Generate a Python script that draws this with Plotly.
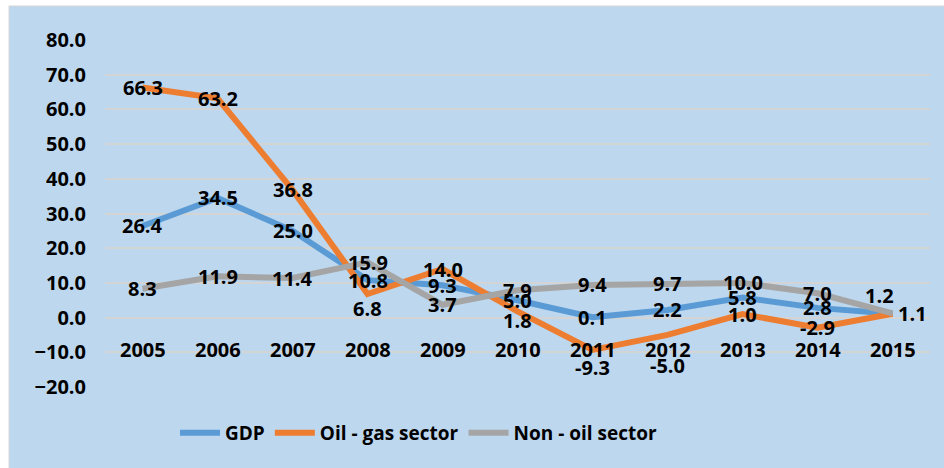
import plotly.graph_objs as go

years = ["2005", "2006", "2007", "2008", "2009", "2010", "2011", "2012", "2013", "2014", "2015"]
gdp = [26.4, 34.5, 25.0, 10.8, 9.3, 5.0, 0.1, 2.2, 5.8, 2.8, 1.1]
oil_gas = [66.3, 63.2, 36.8, 6.8, 14.0, 1.8, -9.3, -5.0, 1.0, -2.9, 1.1]
non_oil = [8.3, 11.9, 11.4, 15.9, 3.7, 7.9, 9.4, 9.7, 10.0, 7.0, 1.2]

# label nudges in px (Excel put a few labels off-centre)
gdp_dx = [0] * 10 + [20]
gdp_dy = [0] * 11
oil_dx = [0] * 11
oil_dy = [0, 0, 0, -14, 0, -9, -18, -31, 0, 0, 0]
non_dx = [0] * 10 + [-13]
non_dy = [0] * 10 + [18]
oil_show = [True] * 10 + [False]   # 2015 oil label hidden under GDP one

font_name = "Open Sans, Roboto, Liberation Sans, sans-serif"
lbl_font = dict(family=font_name, size=20, color="black", weight="bold")

series = [
    ("GDP", gdp, "#5B9BD5", gdp_dx, gdp_dy, [True] * 11),
    ("Oil - gas sector", oil_gas, "#ED7D31", oil_dx, oil_dy, oil_show),
    ("Non - oil sector", non_oil, "#A5A5A5", non_dx, non_dy, [True] * 11),
]

fig = go.Figure()

for name, vals, col, dx, dy, show in series:
    fig.add_trace(go.Scatter(x=years, y=vals, mode="lines", name=name,
                             line=dict(color=col, width=6)))

# data labels
for name, vals, col, dx, dy, show in series:
    for i, v in enumerate(vals):
        if not show[i]:
            continue
        fig.add_annotation(x=i, y=v, text=f"{v:.1f}", showarrow=False,
                           xanchor="center", yanchor="middle",
                           xshift=dx[i], yshift=dy[i], font=lbl_font)

# category labels hang just under the zero line (axis crosses at 0)
for i, yr in enumerate(years):
    fig.add_annotation(x=i, y=0, text=yr, showarrow=False, yanchor="middle",
                       yshift=-32, font=lbl_font)

# blue panel behind everything
fig.add_shape(type="rect", xref="paper", yref="paper",
              x0=-0.1164, x1=1.02, y0=-0.24, y1=1.098,
              fillcolor="#BDD7EE", line=dict(color="#D9D9D9", width=1),
              layer="below")

fig.update_layout(
    width=944, height=468,
    margin=dict(l=105, r=14, t=40, b=81),
    paper_bgcolor="white",
    plot_bgcolor="rgba(0,0,0,0)",
    font=dict(family=font_name, size=20, color="black", weight="bold"),
    showlegend=True,
    legend=dict(orientation="h", x=0.38, xanchor="center", y=-0.1326, yanchor="middle",
                bgcolor="rgba(0,0,0,0)",
                font=dict(family=font_name, size=19, color="black", weight="bold"),
                itemwidth=40, tracegroupgap=0),
    xaxis=dict(type="category", showticklabels=False, showgrid=False, zeroline=False,
               showline=False, range=[-0.5, 10.5]),
    yaxis=dict(range=[-20, 80], dtick=10, tickformat=".1f", showgrid=True,
               gridcolor="#D4D4D4", gridwidth=2, zeroline=False, showline=False,
               ticks="", ticklabelstandoff=18,
               tickfont=dict(family=font_name, size=20, color="black", weight="bold")),
)

fig.write_html("out.html", config={"displayModeBar": False},
               post_script="document.body.style.margin='0';")
